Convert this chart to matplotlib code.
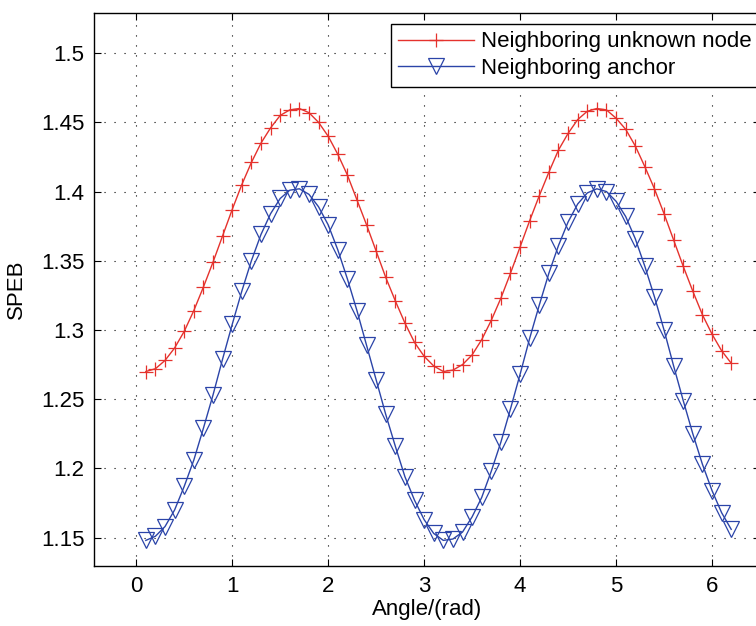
import numpy as np
import matplotlib

matplotlib.use("Agg")
import matplotlib.pyplot as plt

# angle samples (rad)
angle = [round(0.1 * k, 1) for k in range(1, 63)]

speb_unknown = [
    1.270, 1.272, 1.278, 1.287, 1.299, 1.314, 1.331, 1.349, 1.368, 1.387,
    1.405, 1.421, 1.435, 1.446, 1.455, 1.459, 1.460, 1.457, 1.450, 1.440,
    1.427, 1.412, 1.394, 1.376, 1.357, 1.338, 1.321, 1.305, 1.291, 1.281,
    1.274, 1.270, 1.271, 1.275, 1.282, 1.293, 1.307, 1.323, 1.341, 1.360,
    1.379, 1.397, 1.414, 1.430, 1.442, 1.452, 1.458, 1.460, 1.459, 1.453,
    1.445, 1.433, 1.418, 1.402, 1.384, 1.365, 1.346, 1.328, 1.311, 1.297,
    1.285, 1.276,
]

speb_anchor = [
    1.148, 1.151, 1.158, 1.170, 1.187, 1.206, 1.229, 1.253, 1.279, 1.304,
    1.328, 1.350, 1.369, 1.384, 1.395, 1.401, 1.402, 1.398, 1.389, 1.376,
    1.358, 1.337, 1.314, 1.289, 1.264, 1.239, 1.216, 1.194, 1.177, 1.163,
    1.153, 1.148, 1.149, 1.154, 1.165, 1.179, 1.198, 1.219, 1.243, 1.268,
    1.294, 1.318, 1.341, 1.361, 1.378, 1.391, 1.399, 1.402, 1.400, 1.393,
    1.382, 1.366, 1.346, 1.324, 1.300, 1.274, 1.249, 1.225, 1.203, 1.184,
    1.168, 1.156,
]

x_ticks = [0, 1, 2, 3, 4, 5, 6]
y_ticks = [1.15, 1.2, 1.25, 1.3, 1.35, 1.4, 1.45, 1.5]

plt.rcParams["font.family"] = ["Liberation Sans", "DejaVu Sans"]
plt.rcParams["font.size"] = 16

fig = plt.figure(figsize=(7.56, 6.26), dpi=100)
ax = fig.add_axes([94 / 756, 60 / 626, 666 / 756, 553 / 626])

ax.plot(angle, speb_unknown, color="#e5322d", lw=1.0, marker="+", ms=10.5,
        mew=0.9, label="Neighboring unknown node")
ax.plot(angle, speb_anchor, color="#2b44a8", lw=1.0, marker="v", ms=11,
        mfc="none", mew=0.9, label="Neighboring anchor")

ax.set_xlim(-0.44, 6.5)
ax.set_ylim(1.1295, 1.529)
ax.set_xticks(x_ticks)
ax.set_yticks(y_ticks)
ax.set_yticklabels([f"{v:g}" for v in y_ticks])
ax.tick_params(direction="in", length=5, width=0.8, top=True, right=True,
               pad=7, labelsize=16)
ax.grid(True, color="black", linestyle=(0, (1, 8)), linewidth=0.8)
for side in ax.spines.values():
    side.set_linewidth(1.0)

ax.set_xlabel("Angle/(rad)", fontsize=16, labelpad=2)
ax.set_ylabel("SPEB", fontsize=16, labelpad=10)

leg = ax.legend(loc="upper right", bbox_to_anchor=(0.9985, 0.981), fontsize=16,
                handlelength=3.4, handletextpad=0.3, borderpad=0.35,
                labelspacing=0.25, fancybox=False, framealpha=1,
                edgecolor="black", borderaxespad=0)
leg.get_frame().set_linewidth(1.0)

fig.savefig("out.png", dpi=100)
